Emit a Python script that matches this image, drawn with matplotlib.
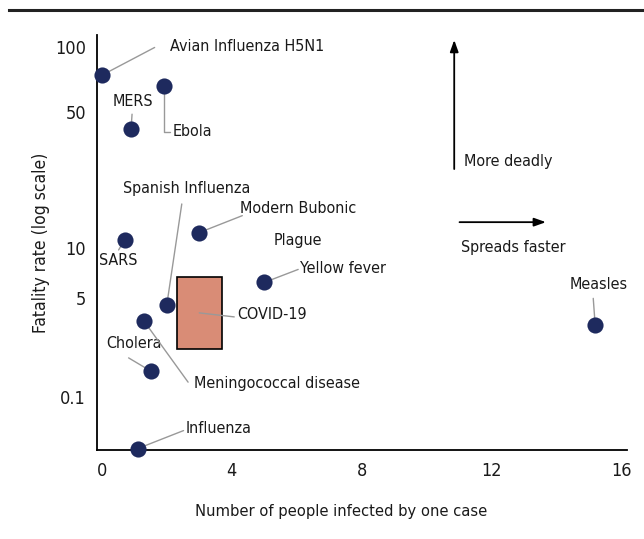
import numpy as np
import matplotlib
matplotlib.use("Agg")
import matplotlib.pyplot as plt
from matplotlib.patches import Rectangle

plt.rcParams['font.family'] = ['DejaVu Sans']
plt.rcParams['font.stretch'] = 'condensed'

# diseases: transmissibility (R0) vs fatality rate (%)
diseases = ['Avian Influenza H5N1', 'Ebola', 'MERS', 'SARS', 'Modern Bubonic Plague',
            'Yellow fever', 'Spanish Influenza', 'Meningococcal disease', 'Cholera',
            'Influenza', 'Measles']
spread = [0.0, 1.9, 0.9, 0.7, 3.0, 5.0, 2.0, 1.3, 1.5, 1.1, 15.2]
fatality = [74, 66, 41, 11, 12, 6.2, 3.8, 2.0, 0.28, 0.013, 1.7]

# COVID-19 range
covid_spread = [2.3, 3.7]
covid_fatality = [0.67, 6.7]

yticks = [0.1, 5, 10, 50, 100]
ytick_labels = ['0.1', '5', '10', '50', '100']
xticks = [0, 4, 8, 12, 16]

# the "log" axis is stretched unevenly between its labelled values
knot_pos = np.array([53, 152, 202, 338, 403], dtype=float)
knot_log = np.log10(yticks)
lo_slope = (knot_pos[1] - knot_pos[0]) / (knot_log[1] - knot_log[0])
hi_slope = (knot_pos[-1] - knot_pos[-2]) / (knot_log[-1] - knot_log[-2])
knot_log = np.concatenate([[knot_log[0] - 4], knot_log, [knot_log[-1] + 4]])
knot_pos = np.concatenate([[knot_pos[0] - 4 * lo_slope], knot_pos, [knot_pos[-1] + 4 * hi_slope]])


def forward(v):
    v = np.clip(np.asarray(v, dtype=float), 1e-9, None)
    return np.interp(np.log10(v), knot_log, knot_pos)


def inverse(p):
    return 10 ** np.interp(np.asarray(p, dtype=float), knot_pos, knot_log)


navy = '#1e2a5e'
grey = '#999999'
ink = '#1a1a1a'
lsize = 11.5

fig = plt.figure(figsize=(6.44, 5.39), dpi=100)
ax = fig.add_axes([97 / 644, 89 / 539, 530 / 644, 415 / 539])
ax.set_yscale('function', functions=(forward, inverse))
ax.set_xlim(-0.15, 16.18)
ax.set_ylim(inverse(0), inverse(415))

for s in ['top', 'right']:
    ax.spines[s].set_visible(False)
for s in ['left', 'bottom']:
    ax.spines[s].set_linewidth(1.3)
    ax.spines[s].set_color('black')

ax.set_yticks(yticks)
ax.set_yticklabels(ytick_labels)
ax.yaxis.set_minor_locator(matplotlib.ticker.NullLocator())
ax.set_xticks(xticks)
ax.tick_params(length=0, labelsize=13, colors=ink)
ax.tick_params(axis='y', pad=8)
ax.tick_params(axis='x', pad=9)

ax.set_ylabel('Fatality rate (log scale)', fontsize=12.5, color=ink, labelpad=3.5)
ax.set_xlabel('Number of people infected by one case', fontsize=11.8, color=ink, labelpad=17)
ax.xaxis.label.set_x(0.46)

# COVID-19 box
box = Rectangle((covid_spread[0], covid_fatality[0]),
                covid_spread[1] - covid_spread[0],
                covid_fatality[1] - covid_fatality[0],
                facecolor='#d98c76', edgecolor='black', lw=1.2, zorder=3)
ax.add_patch(box)
ax.annotate('', xy=(0.5, 0.5), xycoords=box, xytext=(25.2, -2.9), textcoords='offset points',
            arrowprops=dict(arrowstyle='-', color=grey, lw=1, shrinkA=0, shrinkB=0), zorder=4)
ax.annotate('COVID-19', xy=(0.5, 0.5), xycoords=box, xytext=(27.4, -1.4),
            textcoords='offset points', ha='left', va='center', fontsize=lsize, color=ink)

ax.scatter(spread, fatality, s=135, color=navy, zorder=5, clip_on=False, lw=0)

# label offsets (points): leader end, text anchor, alignment
labels = {
    'Avian Influenza H5N1': ((38, 20), (49, 21), 'left'),
    'Ebola': ((5, -33), (6.5, -33), 'left'),
    'MERS': ((0.7, 10.5), (1.4, 19.4), 'center'),
    'SARS': ((-4.3, -7.2), (-4.3, -15.1), 'center'),
    'Modern Bubonic Plague': ((31, 12.2), (71.3, 17.3), 'center'),
    'Yellow fever': ((24.5, 9.4), (25.9, 10.1), 'left'),
    'Spanish Influenza': ((10.8, 72.7), (14.4, 84.2), 'center'),
    'Meningococcal disease': ((31.7, -43.9), (36, -44.6), 'left'),
    'Cholera': ((-15.8, 9.4), (-12.2, 19.4), 'center'),
    'Influenza': ((33.1, 13), (34.6, 14.4), 'left'),
    'Measles': ((-1.4, 19.4), (2.2, 29.5), 'center'),
}

for name, x, y in zip(diseases, spread, fatality):
    line_end, text_pos, ha = labels[name]
    conn = 'angle,angleA=0,angleB=90,rad=0' if name == 'Ebola' else 'arc3'
    ax.annotate('', xy=(x, y), xytext=line_end, textcoords='offset points',
                arrowprops=dict(arrowstyle='-', color=grey, lw=1, shrinkA=0, shrinkB=0,
                                connectionstyle=conn), zorder=4, annotation_clip=False)
    if name == 'Modern Bubonic Plague':
        ax.annotate('Modern Bubonic', xy=(x, y), xytext=text_pos, textcoords='offset points',
                    ha='center', va='center', fontsize=lsize, color=ink)
        ax.annotate('Plague', xy=(x, y), xytext=(text_pos[0], -5.8), textcoords='offset points',
                    ha='center', va='center', fontsize=lsize, color=ink)
    else:
        ax.annotate(name, xy=(x, y), xytext=text_pos, textcoords='offset points',
                    ha=ha, va='center', fontsize=lsize, color=ink, annotation_clip=False)

# direction arrows
arrow_style = dict(arrowstyle='-|>,head_length=0.7,head_width=0.25', color='black', lw=1.3,
                   shrinkA=0, shrinkB=0)
ax.annotate('', xy=(0.674, 0.988), xycoords='axes fraction', xytext=(0.674, 0.677),
            arrowprops=arrow_style)
ax.text(0.693, 0.694, 'More deadly', transform=ax.transAxes, ha='left', va='center',
        fontsize=lsize, color=ink)
ax.annotate('', xy=(0.847, 0.549), xycoords='axes fraction', xytext=(0.684, 0.549),
            arrowprops=arrow_style)
ax.text(0.686, 0.487, 'Spreads faster', transform=ax.transAxes, ha='left', va='center',
        fontsize=lsize, color=ink)

# rule across the top
fig.add_artist(plt.Line2D([9 / 644, 1], [1 - 10 / 539, 1 - 10 / 539], color='#222222', lw=2.2))

fig.savefig('out.png', dpi=100)
